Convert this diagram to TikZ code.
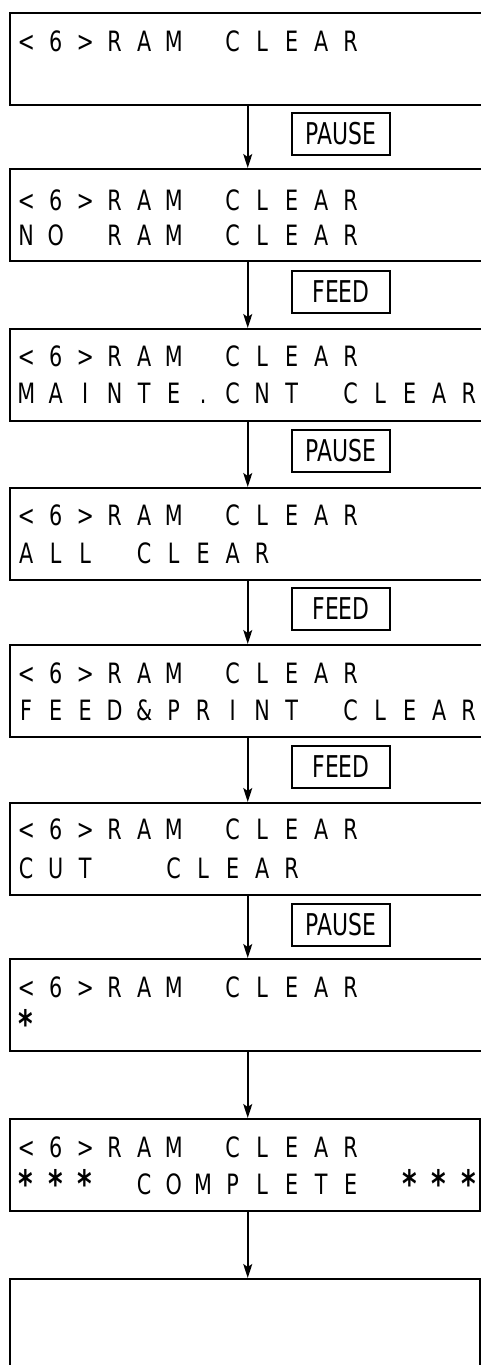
\documentclass[tikz,border=0pt]{standalone}
\usepackage{fontspec}
\usepackage{graphicx}
\usetikzlibrary{arrows.meta}
\newfontfamily\lcdfont[FakeStretch=0.74]{DejaVu Sans}
\newfontfamily\keyfont[FakeStretch=0.73]{DejaVu Sans}
\newcommand\lcd[1]{\lcdnext#1\relax}
\newcommand\lcdnext[1]{\ifx#1\relax\else\makebox[29.5pt]{#1}\expandafter\lcdnext\fi}
\newcommand\lcdast{\raisebox{-.14em}{\scalebox{1.35}{\bfseries *}}}

\begin{document}
\begin{tikzpicture}[x=1pt,y=-1pt,
    lcdbox/.style={draw, line width=1.5pt, anchor=north west, minimum width=476, minimum height=92, inner sep=0},
    lcdtext/.style={anchor=base west, inner sep=0, font=\lcdfont\fontsize{28}{30}\selectfont},
    key/.style={draw, line width=1.5pt, minimum width=98, minimum height=42, inner sep=0, font=\keyfont\fontsize{30}{32}\selectfont},
    flow/.style={line width=1.5pt, -{Stealth[length=14pt,width=9pt,inset=3pt]}}]
            \useasboundingbox (0,0) rectangle (480,1365);

            \node[lcdbox] (d1) at (9,12) {};
            \node[lcdtext] (t1a) at (11.25,51) {\lcd{<6>RAM~CLEAR}};

            \node[lcdbox] (d2) at (9,168) {};
            \node[lcdtext] (t2a) at (11.25,210) {\lcd{<6>RAM~CLEAR}};
            \node[lcdtext] (t2b) at (11.25,245) {\lcd{NO~RAM~CLEAR}};

            \node[lcdbox] (d3) at (9,328) {};
            \node[lcdtext] (t3a) at (11.25,366) {\lcd{<6>RAM~CLEAR}};
            \node[lcdtext] (t3b) at (11.25,403) {\lcd{MAINTE.CNT~CLEAR}};

            \node[lcdbox] (d4) at (9,487) {};
            \node[lcdtext] (t4a) at (11.25,525) {\lcd{<6>RAM~CLEAR}};
            \node[lcdtext] (t4b) at (11.25,563) {\lcd{ALL~CLEAR}};

            \node[lcdbox] (d5) at (9,644) {};
            \node[lcdtext] (t5a) at (11.25,683) {\lcd{<6>RAM~CLEAR}};
            \node[lcdtext] (t5b) at (11.25,720) {\lcd{FEED\&PRINT~CLEAR}};

            \node[lcdbox] (d6) at (9,802) {};
            \node[lcdtext] (t6a) at (11.25,839) {\lcd{<6>RAM~CLEAR}};
            \node[lcdtext] (t6b) at (11.25,878) {\lcd{CUT~~CLEAR}};

            \node[lcdbox] (d7) at (9,958) {};
            \node[lcdtext] (t7a) at (11.25,997) {\lcd{<6>RAM~CLEAR}};
            \node[lcdtext] (t7b) at (11.25,1034) {\lcd{\lcdast}};

            \node[lcdbox, minimum width=470] (d8) at (9,1118) {};
            \node[lcdtext] (t8a) at (11.25,1157) {\lcd{<6>RAM~CLEAR}};
            \node[lcdtext] (t8b) at (11.25,1194) {\lcd{\lcdast\lcdast\lcdast~COMPLETE~\lcdast\lcdast\lcdast}};

            \node[lcdbox, minimum width=470, minimum height=100] (d9) at (9,1278) {};

            \node[key] (k1) at (341,134) {PAUSE};
            \node[key] (k2) at (341,292) {FEED};
            \node[key] (k3) at (341,451) {PAUSE};
            \node[key] (k4) at (341,609) {FEED};
            \node[key] (k5) at (341,767) {FEED};
            \node[key] (k6) at (341,925) {PAUSE};

            \draw[flow] (d1.south) -- (d1.south |- d2.north);
            \draw[flow] (d2.south) -- (d2.south |- d3.north);
            \draw[flow] (d3.south) -- (d3.south |- d4.north);
            \draw[flow] (d4.south) -- (d4.south |- d5.north);
            \draw[flow] (d5.south) -- (d5.south |- d6.north);
            \draw[flow] (d6.south) -- (d6.south |- d7.north);
            \draw[flow] (d7.south) -- (d7.south |- d8.north);
            \draw[flow] (d8.south -| d7.south) -- (d9.north -| d7.south);
\end{tikzpicture}
\end{document}
